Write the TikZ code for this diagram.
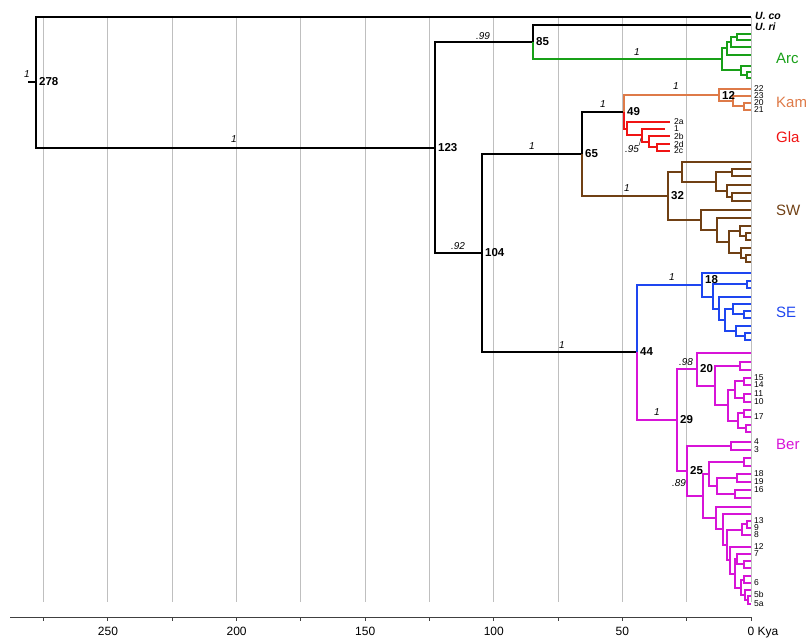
\documentclass[tikz,border=0pt]{standalone}
\usepackage{fontspec}
\setmainfont{Liberation Sans}
\usetikzlibrary{positioning}
\definecolor{arcgreen}{RGB}{24,160,24}
\definecolor{kamorange}{RGB}{222,122,72}
\definecolor{glared}{RGB}{240,20,20}
\definecolor{swbrown}{RGB}{112,64,20}
\definecolor{seblue}{RGB}{30,70,240}
\definecolor{bermag}{RGB}{215,20,215}

\begin{document}
\begin{tikzpicture}[x=1pt,y=-1pt,
  branch/.style={line width=2pt},
  gridln/.style={gray!50,line width=1pt},
  nodelab/.style={anchor=west,inner sep=0pt,xshift=3pt,font=\fontsize{11.5}{12}\selectfont\bfseries},
  supp/.style={inner sep=0pt,font=\fontsize{10}{11}\selectfont\itshape},
  tiplab/.style={anchor=west,inner sep=0pt,xshift=3pt,font=\fontsize{8.5}{9}\selectfont},
  cladelab/.style={anchor=west,inner sep=0pt,font=\fontsize{15}{16}\selectfont},
  taxlab/.style={anchor=west,inner sep=0pt,xshift=4pt,font=\fontsize{10.5}{11}\selectfont\bfseries\itshape},
  axlab/.style={inner sep=0pt,font=\fontsize{12}{13}\selectfont}]
\useasboundingbox (0,0) rectangle (809,640);

\foreach \k in {0,25,...,275}
  \draw[gridln] ({751-2.572*\k},17) -- ({751-2.572*\k},602);

\coordinate (axl) at (10,617);
\coordinate (axr) at (751,617);
\draw[black!75,line width=1pt] (axl) -- (axr);
\foreach \k in {0,25,...,275}
  \draw[black!75,line width=1pt] ({751-2.572*\k},617) -- ++(0,4);
\foreach \k in {0,50,...,250}
  \node[axlab] (ax\k) at ({751-2.572*\k},631) {\k};
\node[axlab,anchor=base west,xshift=3pt] (kya) at (ax0.base east) {Kya};

\coordinate (stub) at (28,82);
\coordinate (n278) at (36,82);
\coordinate (uco) at (751,17);
\coordinate (uri) at (751,25);
\coordinate (n123) at (435,148);
\coordinate (n85) at (533,42);
\coordinate (n104) at (482,253);
\coordinate (n65) at (582,154);
\coordinate (n49) at (624,112);
\coordinate (n12) at (719,95);
\coordinate (n32) at (668,196);
\coordinate (n44) at (637,352);
\coordinate (n18) at (702,285);
\coordinate (n29) at (677,420);
\coordinate (n20) at (697,369);
\coordinate (n25) at (687,471);

\foreach \i/\y in {1/34,2/40,3/47,4/55,5/66,6/72,7/78}
  \coordinate (ar\i) at (751,\y);
\coordinate (a1) at (722,59);
\coordinate (a2) at (727,48);
\coordinate (a3) at (731,42);
\coordinate (a4) at (737,37);
\coordinate (a5) at (741,70);
\coordinate (a6) at (747,75);

\coordinate (k2) at (733,101);
\coordinate (k3) at (744,106);

\foreach \t/\x/\y in {2a/670/122,1/665/129,2b/670/136,2d/670/144,2c/670/151}
  \coordinate (tp\t) at (\x,\y);
\coordinate (g1) at (627,129);
\coordinate (g2) at (642,135);
\coordinate (g3) at (649,142);
\coordinate (g4) at (657,147);

\foreach \i/\y in {1/162,2/169,3/176,4/185,5/193,6/201,7/210,8/218,9/226,10/233,11/240,12/248,13/255,14/262}
  \coordinate (sw\i) at (751,\y);
\coordinate (s1) at (682,172);
\coordinate (s2) at (716,182);
\coordinate (s3) at (732,172);
\coordinate (s4) at (727,191);
\coordinate (s5) at (732,197);
\coordinate (s6) at (701,220);
\coordinate (s7) at (717,230);
\coordinate (s8) at (729,242);
\coordinate (s9) at (740,231);
\coordinate (s10) at (746,236);
\coordinate (s11) at (741,253);
\coordinate (s12) at (746,258);

\foreach \i/\y in {1/273,2/281,3/288,4/297,5/304,6/311,7/318,8/326,9/333,10/340}
  \coordinate (se\i) at (751,\y);
\coordinate (e1) at (713,297);
\coordinate (e2) at (747,284);
\coordinate (e3) at (719,309);
\coordinate (e4) at (725,320);
\coordinate (e5) at (733,309);
\coordinate (e6) at (744,314);
\coordinate (e7) at (736,331);
\coordinate (e8) at (745,336);

\foreach \i/\y in {1/353,2/362,3/370,4/410,5/425,6/432,7/458,8/466,9/498,10/507,11/514,12/561,13/568,14/576,15/590}
  \coordinate (be\i) at (751,\y);
\foreach \t/\y in {22/89,23/96,20/103,21/110,15/378,14/385,11/394,10/402,17/417,4/442,3/450,18/474,19/482,16/490,13/521,9/528,8/535,12/547,7/554,6/583,5b/596,5a/604}
  \coordinate (tp\t) at (751,\y);
\coordinate (b1) at (715,386);
\coordinate (b2) at (740,366);
\coordinate (b3) at (728,405);
\coordinate (b4) at (735,390);
\coordinate (b5) at (744,381);
\coordinate (b6) at (744,398);
\coordinate (b7) at (738,421);
\coordinate (b8) at (744,413);
\coordinate (b9) at (746,428);
\coordinate (b10) at (731,446);
\coordinate (b11) at (703,496);
\coordinate (b12) at (709,474);
\coordinate (b13) at (744,462);
\coordinate (b14) at (717,486);
\coordinate (b15) at (737,478);
\coordinate (b16) at (735,494);
\coordinate (b17) at (716,518);
\coordinate (f1) at (747,524);
\coordinate (f2) at (742,530);
\coordinate (f3) at (723,529);
\coordinate (f4) at (727,545);
\coordinate (f5) at (730,560);
\coordinate (f6) at (735,574);
\coordinate (f7) at (737,559);
\coordinate (f8) at (744,564);
\coordinate (f9) at (741,588);
\coordinate (f10) at (744,580);
\coordinate (f11) at (745,595);
\coordinate (f12) at (748,600);

\draw[branch] (stub) -- (n278);
\foreach \p/\c in {n278/uco,n278/n123,n123/n85,n85/uri,n123/n104,n104/n65,n104/n44,n65/n49}
  \draw[branch] (\p) |- (\c);
\foreach \p/\c in {n85/a1,a1/a2,a1/a5,a2/a3,a2/ar4,a3/a4,a3/ar3,a4/ar1,a4/ar2,a5/ar5,a5/a6,a6/ar6,a6/ar7}
  \draw[branch,arcgreen] (\p) |- (\c);
\foreach \p/\c in {n49/n12,n12/tp22,n12/k2,k2/tp23,k2/k3,k3/tp20,k3/tp21}
  \draw[branch,kamorange] (\p) |- (\c);
\foreach \p/\c in {n49/g1,g1/tp2a,g1/g2,g2/tp1,g2/g3,g3/tp2b,g3/g4,g4/tp2d,g4/tp2c}
  \draw[branch,glared] (\p) |- (\c);
\foreach \p/\c in {n65/n32,n32/s1,n32/s6,s1/sw1,s1/s2,s2/s3,s2/s4,s3/sw2,s3/sw3,s4/sw4,s4/s5,s5/sw5,s5/sw6,
    s6/sw7,s6/s7,s7/sw8,s7/s8,s8/s9,s8/s11,s9/sw9,s9/s10,s10/sw10,s10/sw11,s11/sw12,s11/s12,s12/sw13,s12/sw14}
  \draw[branch,swbrown] (\p) |- (\c);
\foreach \p/\c in {n44/n18,n18/se1,n18/e1,e1/e2,e1/e3,e2/se2,e2/se3,e3/se4,e3/e4,e4/e5,e4/e7,e5/se5,e5/e6,
    e6/se6,e6/se7,e7/se8,e7/e8,e8/se9,e8/se10}
  \draw[branch,seblue] (\p) |- (\c);
\foreach \p/\c in {n44/n29,n29/n20,n29/n25,n20/be1,n20/b1,b1/b2,b1/b3,b2/be2,b2/be3,b3/b4,b3/b7,b4/b5,b4/b6,
    b5/tp15,b5/tp14,b6/tp11,b6/tp10,b7/b8,b7/b9,b8/be4,b8/tp17,b9/be5,b9/be6,
    n25/b10,n25/b11,b10/tp4,b10/tp3,b11/b12,b11/b17,b12/b13,b12/b14,b13/be7,b13/be8,b14/b15,b14/b16,
    b15/tp18,b15/tp19,b16/tp16,b16/be9,b17/be10,b17/f3,f3/be11,f3/f4,f4/f2,f4/f5,f2/f1,f2/tp8,f1/tp13,f1/tp9,
    f5/tp12,f5/f6,f6/f7,f6/f9,f7/tp7,f7/f8,f8/be12,f8/be13,f9/f10,f9/f11,f10/be14,f10/tp6,f11/be15,f11/f12,
    f12/tp5b,f12/tp5a}
  \draw[branch,bermag] (\p) |- (\c);

\foreach \n in {278,123,85,104,65,49,12,32,44,29,20,25}
  \node[nodelab] (lab\n) at (n\n) {\n};
\node[nodelab,yshift=5pt] (lab18) at (n18) {18};

\node[supp] (sr) at (27,74) {1};
\node[supp] (s99) at (483,36) {.99};
\node[supp] (sarc) at (637,52) {1};
\node[supp] (skam) at (676,86) {1};
\node[supp] (s49) at (603,104) {1};
\node[supp] (s95) at (632,149) {.95};
\coordinate (g2tick) at (641,138);
\draw[thin] (s95.north east) -- (g2tick);
\node[supp] (s32) at (627,188) {1};
\node[supp] (s65) at (532,146) {1};
\node[supp] (s123) at (234,139) {1};
\node[supp] (s92) at (458,246) {.92};
\node[supp] (s44) at (562,345) {1};
\node[supp] (s18) at (672,277) {1};
\node[supp] (s98) at (686,362) {.98};
\node[supp] (s29) at (657,412) {1};
\node[supp] (s89) at (679,483) {.89};

\node[taxlab,yshift=1pt] (labuco) at (uco) {U. co};
\node[taxlab,yshift=-1.5pt] (laburi) at (uri) {U. ri};
\foreach \t in {22,23,20,21,15,14,11,10,17,4,3,18,19,16,13,9,8,12,7,6,5a}
  \node[tiplab] (lab\t) at (tp\t) {\t};
\node[tiplab,yshift=1.5pt] (lab5b) at (tp5b) {5b};
\foreach \t/\y in {2a/122,1/129,2b/136,2d/144,2c/151}
  \node[tiplab,xshift=0pt] (lab\t) at (671,\y) {\t};

\node[cladelab,text=arcgreen] (arc) at (776,58) {Arc};
\node[cladelab,text=kamorange] (kam) at (776,102) {Kam};
\node[cladelab,text=glared] (gla) at (776,137) {Gla};
\node[cladelab,text=swbrown] (sw) at (776,210) {SW};
\node[cladelab,text=seblue] (se) at (776,312) {SE};
\node[cladelab,text=bermag] (ber) at (776,444) {Ber};
\end{tikzpicture}
\end{document}
